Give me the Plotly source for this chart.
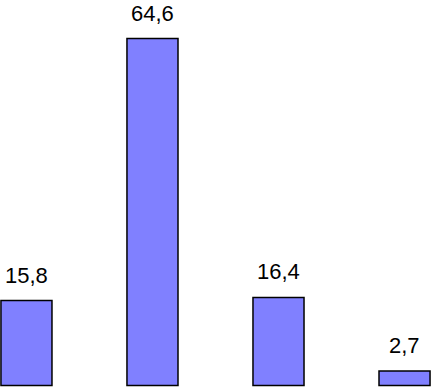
import plotly.graph_objects as go

categories = [0, 1, 2, 3]
values = [15.8, 64.6, 16.4, 2.7]
labels = ["15,8", "64,6", "16,4", "2,7"]

fig = go.Figure()
fig.add_trace(go.Bar(
    x=categories, y=values, width=0.405,
    marker=dict(color="#8080FF", line=dict(color="black", width=1.5)),
    hoverinfo="skip",
))
for c, v, t in zip(categories, values, labels):
    fig.add_annotation(x=c, y=v, text=t, showarrow=False, yanchor="bottom",
                       yshift=11, font=dict(family="Liberation Sans, Arial", size=22, color="black"))

fig.update_layout(
    width=433, height=390, margin=dict(l=0, r=0, t=0, b=0),
    paper_bgcolor="white", plot_bgcolor="white", showlegend=False,
    xaxis=dict(range=[-0.21, 3.226], visible=False),
    yaxis=dict(range=[-0.84, 71.77], visible=False),
)
fig.write_html("out.html", config={"displayModeBar": False},
               post_script="document.body.style.margin='0';document.body.style.overflow='hidden';")
